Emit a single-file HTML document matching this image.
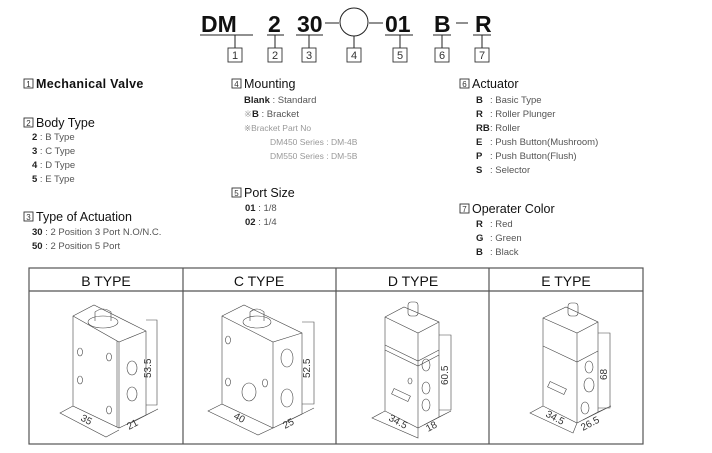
<!DOCTYPE html>
<html><head><meta charset="utf-8"><style>
html,body{margin:0;padding:0;background:#fff}
svg{display:block}
text{font-family:"Liberation Sans",Arial,sans-serif}
.h{font-size:12.5px;fill:#111}
.i{font-size:9.5px;fill:#555}
.b{font-weight:bold;fill:#222}
.g{font-size:8.5px;fill:#999}
.bx{fill:none;stroke:#333;stroke-width:0.9}
.ln{fill:none;stroke:#222;stroke-width:1}
.tn{fill:none;stroke:#444;stroke-width:0.6}
.dm{font-size:10px;fill:#333}
</style></head><body>
<svg width="712" height="453" viewBox="0 0 712 453" xmlns="http://www.w3.org/2000/svg">
<!-- code -->
<g font-weight="bold" font-size="23" fill="#111">
<text x="201" y="32">DM</text>
<text x="268" y="32">2</text>
<text x="297" y="32">30</text>
<text x="385" y="32">01</text>
<text x="434" y="32">B</text>
<text x="475" y="32">R</text>
</g>
<g class="ln">
<line x1="200" y1="35" x2="253" y2="35"/><line x1="267" y1="35" x2="284" y2="35"/>
<line x1="296" y1="35" x2="323" y2="35"/><line x1="385" y1="35" x2="413" y2="35"/>
<line x1="433" y1="35" x2="451" y2="35"/><line x1="473" y1="35" x2="491" y2="35"/>
<line x1="325" y1="23" x2="339" y2="23"/><line x1="369" y1="23" x2="383" y2="23"/><line x1="456" y1="23" x2="468" y2="23"/>
<circle cx="354" cy="22" r="14"/>
<line x1="235" y1="35" x2="235" y2="48"/><line x1="275" y1="35" x2="275" y2="48"/><line x1="309" y1="35" x2="309" y2="48"/>
<line x1="354" y1="36" x2="354" y2="48"/><line x1="400" y1="35" x2="400" y2="48"/><line x1="442" y1="35" x2="442" y2="48"/><line x1="482" y1="35" x2="482" y2="48"/>
</g>
<g class="bx">
<rect x="228" y="48" width="14" height="14"/><rect x="268" y="48" width="14" height="14"/><rect x="302" y="48" width="14" height="14"/>
<rect x="347" y="48" width="14" height="14"/><rect x="393" y="48" width="14" height="14"/><rect x="435" y="48" width="14" height="14"/><rect x="475" y="48" width="14" height="14"/>
</g>
<g font-size="11" fill="#333" text-anchor="middle">
<text x="235" y="59">1</text><text x="275" y="59">2</text><text x="309" y="59">3</text><text x="354" y="59">4</text><text x="400" y="59">5</text><text x="442" y="59">6</text><text x="482" y="59">7</text>
</g>
<!-- section boxes -->
<g class="bx">
<rect x="24" y="79" width="9" height="9"/><rect x="24" y="118" width="9" height="9"/><rect x="24" y="212" width="9" height="9"/>
<rect x="232" y="79" width="9" height="9"/><rect x="232" y="188" width="9" height="9"/>
<rect x="460" y="79" width="9" height="9"/><rect x="460" y="204" width="9" height="9"/>
</g>
<g font-size="8" fill="#333" text-anchor="middle">
<text x="28.5" y="87">1</text><text x="28.5" y="126">2</text><text x="28.5" y="220">3</text>
<text x="236.5" y="87">4</text><text x="236.5" y="196">5</text><text x="464.5" y="87">6</text><text x="464.5" y="212">7</text>
</g>
<text class="h" x="36" y="88" font-weight="bold" letter-spacing="0.3">Mechanical Valve</text>
<text class="h" x="36" y="127">Body Type</text>
<text class="i" x="32" y="140"><tspan class="b">2</tspan> : B Type</text>
<text class="i" x="32" y="154"><tspan class="b">3</tspan> : C Type</text>
<text class="i" x="32" y="168"><tspan class="b">4</tspan> : D Type</text>
<text class="i" x="32" y="182"><tspan class="b">5</tspan> : E Type</text>
<text class="h" x="36" y="221">Type of Actuation</text>
<text class="i" x="32" y="235"><tspan class="b">30</tspan> : 2 Position 3 Port N.O/N.C.</text>
<text class="i" x="32" y="249"><tspan class="b">50</tspan> : 2 Position 5 Port</text>

<text class="h" x="244" y="88">Mounting</text>
<text class="i" x="244" y="103"><tspan class="b">Blank</tspan> : Standard</text>
<text class="i" x="244" y="117"><tspan fill="#aaa">※</tspan><tspan class="b">B</tspan>      : Bracket</text>
<text class="g" x="244" y="131">※Bracket Part No</text>
<text class="g" x="270" y="145">DM450 Series : DM-4B</text>
<text class="g" x="270" y="159">DM550 Series : DM-5B</text>
<text class="h" x="244" y="197">Port Size</text>
<text class="i" x="245" y="211"><tspan class="b">01</tspan> : 1/8</text>
<text class="i" x="245" y="225"><tspan class="b">02</tspan> : 1/4</text>

<text class="h" x="472" y="88">Actuator</text>
<g class="i">
<text x="476" y="103"><tspan class="b">B</tspan></text><text x="490" y="103">: Basic Type</text>
<text x="476" y="117"><tspan class="b">R</tspan></text><text x="490" y="117">: Roller Plunger</text>
<text x="476" y="131"><tspan class="b">RB</tspan></text><text x="490" y="131">: Roller</text>
<text x="476" y="145"><tspan class="b">E</tspan></text><text x="490" y="145">: Push Button(Mushroom)</text>
<text x="476" y="159"><tspan class="b">P</tspan></text><text x="490" y="159">: Push Button(Flush)</text>
<text x="476" y="173"><tspan class="b">S</tspan></text><text x="490" y="173">: Selector</text>
</g>
<text class="h" x="472" y="213">Operater Color</text>
<g class="i">
<text x="476" y="227"><tspan class="b">R</tspan></text><text x="490" y="227">: Red</text>
<text x="476" y="241"><tspan class="b">G</tspan></text><text x="490" y="241">: Green</text>
<text x="476" y="255"><tspan class="b">B</tspan></text><text x="490" y="255">: Black</text>
</g>

<!-- table -->
<g fill="none" stroke="#555" stroke-width="1.2">
<rect x="29" y="268" width="614" height="176"/>
<line x1="29" y1="291" x2="643" y2="291"/>
<line x1="183" y1="268" x2="183" y2="444"/><line x1="336" y1="268" x2="336" y2="444"/><line x1="489" y1="268" x2="489" y2="444"/>
</g>
<g font-size="14" fill="#111" text-anchor="middle">
<text x="106" y="286">B TYPE</text><text x="259" y="286">C TYPE</text><text x="413" y="286">D TYPE</text><text x="566" y="286">E TYPE</text>
</g>

<!-- B -->
<g class="tn" stroke-width="0.8">
<path d="M73 316 L94 305 L146 331 L146 415 L119 428 L73 406 Z"/>
<path d="M73 316 L119 342 L146 331"/><line x1="119" y1="342" x2="119" y2="428"/><line x1="117" y1="341" x2="117" y2="427"/>
<ellipse cx="103" cy="322" rx="15" ry="6"/><path d="M95 321 L95 312 Q103 306 111 312 L111 321"/>
<ellipse cx="80" cy="352" rx="2.5" ry="4"/><ellipse cx="80" cy="380" rx="2.5" ry="4"/><ellipse cx="109" cy="357" rx="2.5" ry="4"/><ellipse cx="109" cy="410" rx="2.5" ry="4"/>
<ellipse cx="132" cy="368" rx="5" ry="7"/><ellipse cx="132" cy="394" rx="5" ry="7"/>
<path d="M73 406 L60 413 L106 437 L119 430"/><path d="M146 415 L158 409 L131 423"/>
<path d="M146 320 L157 320 L157 405 L146 405"/>
</g>
<text class="dm" transform="translate(80 420) rotate(28)">35</text>
<text class="dm" transform="translate(129 430) rotate(-28)">21</text>
<text class="dm" transform="translate(151 378) rotate(-90)">53.5</text>
<!-- C -->
<g class="tn" stroke-width="0.8">
<path d="M222 316 L244 305 L302 333 L302 414 L273 428 L222 404 Z"/>
<path d="M222 316 L273 342 L302 333"/><line x1="273" y1="342" x2="273" y2="428"/>
<ellipse cx="257" cy="322" rx="14" ry="6"/><path d="M250 321 L250 312 Q257 306 264 312 L264 321"/>
<ellipse cx="228" cy="340" rx="2.5" ry="4"/><ellipse cx="228" cy="382" rx="2.5" ry="4"/><ellipse cx="265" cy="383" rx="2.5" ry="4"/>
<ellipse cx="249" cy="392" rx="7" ry="9"/>
<ellipse cx="287" cy="358" rx="6" ry="9"/><ellipse cx="287" cy="398" rx="6" ry="9"/>
<path d="M222 404 L208 411 L258 435 L273 428"/><path d="M302 414 L314 408 L286 422"/>
<path d="M302 322 L314 322 L314 404 L302 404"/>
</g>
<text class="dm" transform="translate(233 418) rotate(28)">40</text>
<text class="dm" transform="translate(285 429) rotate(-28)">25</text>
<text class="dm" transform="translate(310 378) rotate(-90)">52.5</text>
<!-- D -->
<g class="tn" stroke-width="0.8">
<path d="M385 317 L404 307 L439 322 L439 417 L418 428 L385 411 Z"/>
<path d="M385 317 L418 333 L439 322"/><line x1="418" y1="333" x2="418" y2="428"/>
<path d="M385 345 L418 361 L439 350"/><path d="M385 350 L418 366 L439 355"/>
<rect x="408" y="302" width="10" height="14" rx="3"/>
<rect x="392" y="392" width="18" height="6" transform="rotate(25 401 395)"/>
<ellipse cx="410" cy="381" rx="2" ry="3"/><ellipse cx="426" cy="365" rx="4" ry="6"/><ellipse cx="426" cy="388" rx="4" ry="6"/><ellipse cx="426" cy="405" rx="4" ry="6"/>
<path d="M385 411 L372 418 L418 438 L418 428"/><path d="M439 417 L451 411 L424 425"/>
<path d="M439 335 L451 335 L451 410 L439 410"/>
</g>
<text class="dm" transform="translate(388 420) rotate(28)">34.5</text>
<text class="dm" transform="translate(428 432) rotate(-28)">18</text>
<text class="dm" transform="translate(448 385) rotate(-90)">60.5</text>
<!-- E -->
<g class="tn" stroke-width="0.8">
<path d="M543 318 L566 307 L598 322 L598 412 L577 423 L543 406 Z"/>
<path d="M543 318 L577 333 L598 322"/><line x1="577" y1="333" x2="577" y2="423"/>
<path d="M543 346 L577 362 L598 351"/>
<rect x="568" y="303" width="10" height="13" rx="3"/>
<rect x="548" y="385" width="18" height="6" transform="rotate(25 557 388)"/>
<ellipse cx="589" cy="367" rx="4" ry="6"/><ellipse cx="589" cy="385" rx="5" ry="7"/><ellipse cx="585" cy="408" rx="4" ry="6"/>
<path d="M543 406 L530 413 L573 433 L577 423"/><path d="M598 412 L611 406 L583 420"/>
<path d="M598 333 L610 333 L610 408 L598 408"/>
</g>
<text class="dm" transform="translate(545 416) rotate(28)">34.5</text>
<text class="dm" transform="translate(583 431) rotate(-28)">26.5</text>
<text class="dm" transform="translate(607 380) rotate(-90)">68</text>
</svg>
</body></html>
